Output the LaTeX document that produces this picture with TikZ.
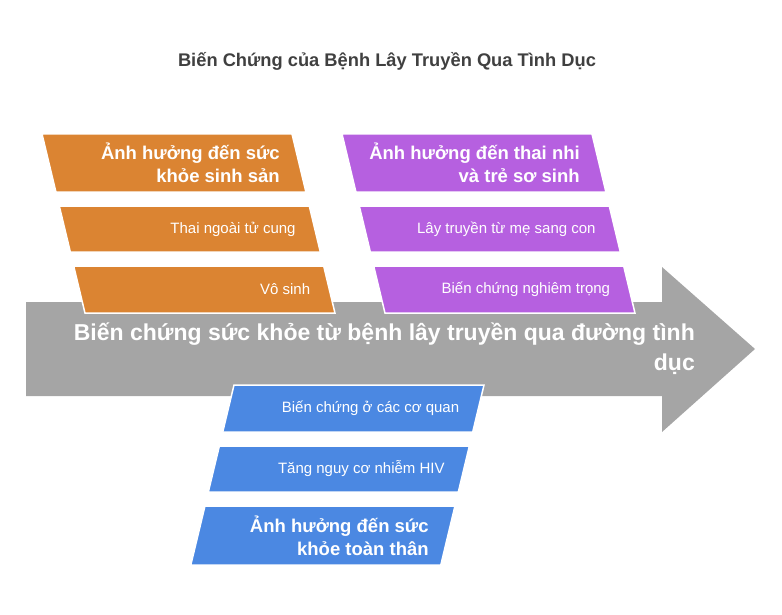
\documentclass[tikz,border=0pt]{standalone}
\usepackage{fontspec}
\setmainfont{Liberation Sans}
\usetikzlibrary{calc}
\usetikzlibrary{positioning}

\definecolor{orangebox}{HTML}{DB8432}
\definecolor{purplebox}{HTML}{B660E0}
\definecolor{bluebox}{HTML}{4B88E2}
\definecolor{greyarrow}{HTML}{A5A5A5}
\definecolor{titlegrey}{HTML}{404040}

\begin{document}
\begin{tikzpicture}[x=1pt, y=-1pt,
    band/.style={draw=white, line width=1.5pt},
    lbl/.style={anchor=east, text=white, inner sep=0pt, font=\fontsize{15}{18}\selectfont},
    head/.style={anchor=east, text=white, inner sep=0pt, align=right, font=\bfseries\fontsize{18.5}{23}\selectfont}]
    \useasboundingbox (0,0) rectangle (782,615);
    \node[text=titlegrey, font=\bfseries\fontsize{18.3}{22}\selectfont] (title) at (387,61) {Biến Chứng của Bệnh Lây Truyền Qua Tình Dục};
    % spine
    \fill[greyarrow] (26,302) -- (662,302) -- (662,267) -- (755,349) -- (662,432) -- (662,396) -- (26,396) -- cycle;
    \node[anchor=east, text=white, inner sep=0pt, align=right, font=\bfseries\fontsize{23}{30}\selectfont] (main) at (695,349)
        {Biến chứng sức khỏe từ bệnh lây truyền qua đường tình\\dục};
    % top left
    \foreach \t/\h/\kind/\txt [count=\i] in {134/58/head/{Ảnh hưởng đến sức\\khỏe sinh sản}, 206/46/lbl/{Thai ngoài tử cung}, 266/47/lbl/{Vô sinh}}
    {
        \pgfmathsetmacro\xl{42+0.24*(\t-134)}
        \pgfmathsetmacro\sl{0.24*\h}
        \filldraw[band, fill=orangebox] (\xl,\t) -- ++(250,0) -- ++(\sl,\h) -- ++(-250,0) -- cycle;
        \node[\kind] (o\i) at (\xl+250+\sl/2-19, \t+\h/2) {\txt};
    }
    % top right
    \foreach \t/\h/\kind/\txt [count=\i] in {134/58/head/{Ảnh hưởng đến thai nhi\\và trẻ sơ sinh}, 206/46/lbl/{Lây truyền từ mẹ sang con}, 266/47/lbl/{Biến chứng nghiêm trọng}}
    {
        \pgfmathsetmacro\xl{342+0.24*(\t-134)}
        \pgfmathsetmacro\sl{0.24*\h}
        \filldraw[band, fill=purplebox] (\xl,\t) -- ++(250,0) -- ++(\sl,\h) -- ++(-250,0) -- cycle;
        \node[\kind] (p\i) at (\xl+250+\sl/2-19, \t+\h/2) {\txt};
    }
    % bottom
    \foreach \t/\h/\kind/\txt [count=\i] in {385/47/lbl/{Biến chứng ở các cơ quan}, 446/46/lbl/{Tăng nguy cơ nhiễm HIV}, 506/59/head/{Ảnh hưởng đến sức\\khỏe toàn thân}}
    {
        \pgfmathsetmacro\xl{234-0.24*(\t-385)}
        \pgfmathsetmacro\sl{0.24*\h}
        \filldraw[band, fill=bluebox] (\xl,\t) -- ++(250,0) -- ++(-\sl,\h) -- ++(-250,0) -- cycle;
        \node[\kind] (b\i) at (\xl+250-\sl/2-19, \t+\h/2) {\txt};
    }
\end{tikzpicture}
\end{document}
